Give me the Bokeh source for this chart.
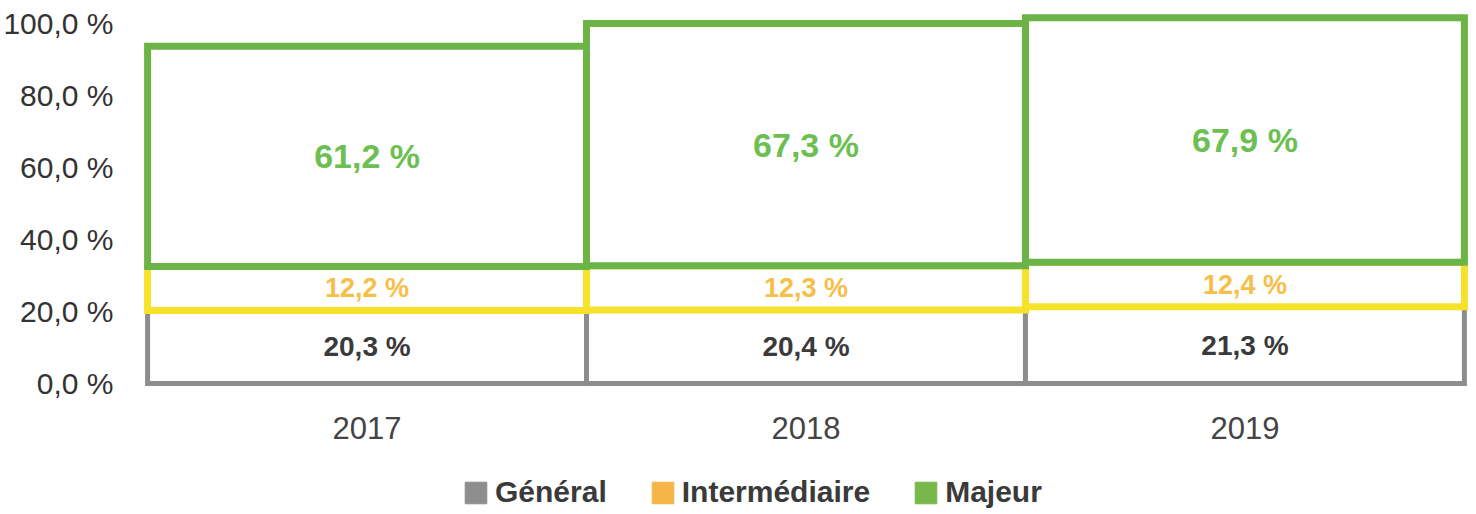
from bokeh.plotting import figure
from bokeh.models import FactorRange, ColumnDataSource, Legend, LegendItem, FixedTicker
from bokeh.layouts import column
from bokeh.core.properties import value
from bokeh.embed import file_html
from bokeh.resources import INLINE
import numpy as np

years = ["2017", "2018", "2019"]
series = ["Général", "Intermédiaire", "Majeur"]
general = [20.3, 20.4, 21.3]
intermediaire = [12.2, 12.3, 12.4]
majeur = [61.2, 67.3, 67.9]
y_ticks = [0, 20, 40, 60, 80, 100]
y_tick_labels = ["0,0 %", "20,0 %", "40,0 %", "60,0 %", "80,0 %", "100,0 %"]

line_colors = ["#8d8d8d", "#f6e22a", "#6cb446"]
legend_colors = ["#8e8e8e", "#f6b548", "#78b84a"]
label_colors = ["#3a3a3a", "#f7be48", "#6dbf52"]
label_sizes = ["28px", "27px", "34px"]
line_widths = [5, 7, 7]

FONT = "Liberation Sans"
W = 1474

source = ColumnDataSource(data={"years": years, "Général": general,
                                "Intermédiaire": intermediaire, "Majeur": majeur})

p = figure(x_range=FactorRange(*years, range_padding=0.023, range_padding_units="absolute"),
           y_range=(-2.22, 104.44), width=W, height=458,
           output_backend="svg", toolbar_location=None,
           min_border_left=134, min_border_right=0, min_border_top=7, min_border_bottom=67)

p.vbar_stack(series, x="years", width=1.0, source=source, fill_color="white",
             line_color=line_colors, line_width=line_widths, line_join="miter")

vals = np.array([general, intermediaire, majeur])
tops = np.cumsum(vals, axis=0)
bottoms = tops - vals
for i in range(3):
    centers = (tops[i] + bottoms[i]) / 2
    texts = [f"{v:.1f}".replace(".", ",") + " %" for v in vals[i]]
    p.text(x=years, y=list(centers), text=texts, text_align="center", text_baseline="middle",
           text_font=value(FONT), text_font_style="bold", text_font_size=label_sizes[i],
           text_color=label_colors[i])

p.yaxis.ticker = FixedTicker(ticks=y_ticks)
p.yaxis.major_label_overrides = {t: l for t, l in zip(y_ticks, y_tick_labels)}
p.yaxis.major_label_text_font = FONT
p.yaxis.major_label_text_font_size = "30px"
p.yaxis.major_label_text_color = "#333333"
p.yaxis.major_label_standoff = 24
p.xaxis.major_label_text_font = FONT
p.xaxis.major_label_text_font_size = "31px"
p.xaxis.major_label_text_color = "#444444"
p.xaxis.major_label_standoff = 25
for ax in (p.xaxis, p.yaxis):
    ax.axis_line_color = None
    ax.major_tick_line_color = None
    ax.minor_tick_line_color = None
    ax.major_tick_out = 0
    ax.major_tick_in = 0
p.xgrid.grid_line_color = None
p.ygrid.grid_line_color = None
p.outline_line_color = None
p.background_fill_color = "white"
p.border_fill_color = "white"

# legend in its own strip (dummy renderers are hidden; only their legend swatches show)
pl = figure(width=W, height=52, x_range=(0, 1), y_range=(0, 1),
            output_backend="svg", toolbar_location=None,
            min_border_left=134, min_border_right=0, min_border_top=0, min_border_bottom=0)
pl.axis.visible = False
pl.xgrid.grid_line_color = None
pl.ygrid.grid_line_color = None
pl.outline_line_color = None
items = []
for name, c in zip(series, legend_colors):
    r = pl.vbar(x=[0.5], top=[0.5], width=0.1, fill_color=c, line_color=c, visible=False)
    items.append(LegendItem(label=name, renderers=[r]))
legend = Legend(items=items, orientation="horizontal", location=(325, 1),
                glyph_width=27, glyph_height=27, label_standoff=6, spacing=42,
                padding=0, margin=0, border_line_color=None, background_fill_alpha=0,
                label_text_font=FONT, label_text_font_style="bold",
                label_text_font_size="30px", label_text_color="#3a3a3a")
pl.add_layout(legend)

open("out.html", "w").write(file_html(column(p, pl, spacing=0), INLINE))
